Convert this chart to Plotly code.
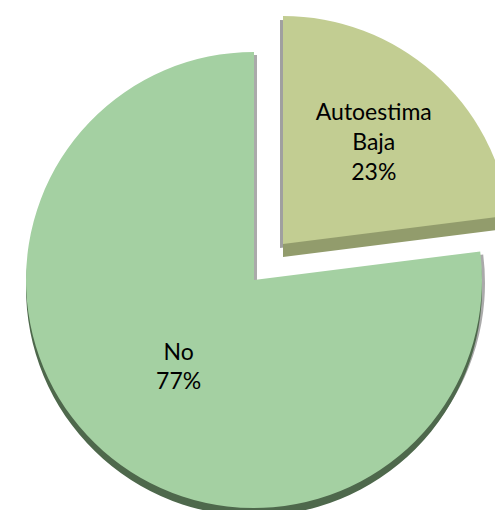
import plotly.graph_objects as go

labels = ["Autoestima Baja", "No"]
values = [23, 77]
face_colors = ["rgb(194,205,146)", "rgb(164,208,162)"]
depth_colors = ["rgb(146,156,108)", "rgb(78,104,76)"]
shadow_colors = ["rgb(160,160,160)", "rgb(170,170,170)"]

W, H = 503, 510
R = 228

def dom(cx, cy, r=R):
    return dict(x=[(cx - r) / W, (cx + r) / W], y=[1 - (cy + r) / H, 1 - (cy - r) / H])

display = [l.replace(" ", "<br>") for l in labels]
clear = "rgba(0,0,0,0)"

def pie(idx, colors, domain, with_text):
    cols = [clear, clear]
    cols[idx] = colors[idx]
    tt = ["", ""]
    if with_text:
        tt[idx] = "%{text}<br>%{percent}"
    return go.Pie(
        labels=labels, values=values, text=display,
        sort=False, direction="clockwise", rotation=0,
        marker=dict(colors=cols, line=dict(width=0)),
        texttemplate=tt, textposition="inside",
        insidetextorientation="horizontal",
        textfont=dict(family="Lato", size=23, color="black"),
        hoverinfo="skip", showlegend=False, domain=domain,
    )

fig = go.Figure()
# No slice: shadow, depth edge, face
fig.add_trace(pie(1, shadow_colors, dom(249, 275), False))
fig.add_trace(pie(1, depth_colors, dom(246, 280), False))
fig.add_trace(pie(1, face_colors, dom(246, 272), True))
# Exploded slice: shadow, depth edge, face
fig.add_trace(pie(0, shadow_colors, dom(272, 240), False))
fig.add_trace(pie(0, depth_colors, dom(275, 249), False))
fig.add_trace(pie(0, face_colors, dom(275, 236), True))

fig.update_layout(
    width=W, height=H, margin=dict(l=0, r=0, t=0, b=0),
    paper_bgcolor="white", plot_bgcolor="white",
    uniformtext=dict(minsize=10, mode="show"),
)
fig.write_html("out.html")
